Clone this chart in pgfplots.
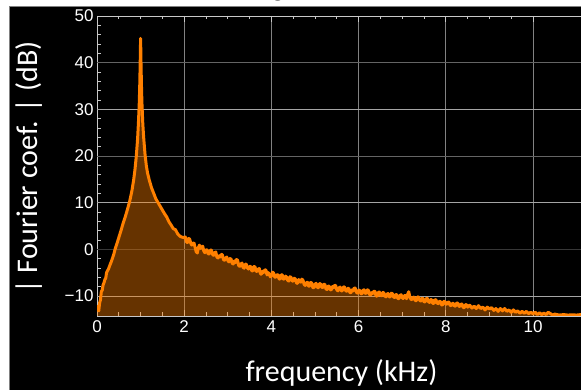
\documentclass[border=0pt]{standalone}
\usepackage{pgfplots}
\usepackage{pgfplotstable}
\pgfplotsset{compat=1.18}
\usepackage{fontspec}
\setmainfont{Carlito}
\newfontfamily\tickfont{Liberation Sans}
\definecolor{mmaorange}{rgb}{1,0.5,0}
\definecolor{framegray}{RGB}{200,200,200}
\definecolor{gridx}{RGB}{130,130,130}
\definecolor{gridlight}{RGB}{165,165,165}
\definecolor{gridmid}{RGB}{100,100,100}
\definecolor{griddark}{RGB}{55,55,55}

\pgfplotstableread{
f v
0.00 -12.0
0.02 -13.0
0.04 -13.2
0.06 -11.5
0.08 -10.8
0.10 -9.0
0.12 -8.8
0.14 -7.6
0.16 -7.2
0.18 -6.5
0.20 -6.2
0.22 -5.0
0.24 -4.6
0.26 -4.3
0.28 -3.8
0.30 -3.3
0.33 -2.6
0.36 -1.8
0.39 -0.9
0.42 0.2
0.45 1.0
0.50 2.5
0.55 4.0
0.60 5.6
0.65 7.0
0.70 8.6
0.75 10.3
0.80 12.5
0.84 14.8
0.87 17.0
0.90 19.8
0.93 23.5
0.95 27.0
0.97 31.5
0.98 35.0
0.99 39.5
1.00 45.2
1.01 39.5
1.02 35.0
1.03 31.5
1.05 27.0
1.07 24.0
1.10 20.5
1.13 18.0
1.16 16.3
1.20 14.8
1.25 13.2
1.30 12.0
1.35 10.8
1.40 10.0
1.45 9.2
1.50 8.4
1.55 7.6
1.60 6.9
1.65 5.9
1.70 5.2
1.75 4.4
1.80 4.2
1.85 3.3
1.90 2.8
1.95 2.6
2.00 2.5
2.025 2.65
2.05 1.6
2.075 1.45
2.10 2.3
2.125 2.2
2.15 1.3
2.175 0.9
2.20 1.3
2.225 1.35
2.25 0.4
2.275 -0.5
2.30 -0.8
2.325 0.35
2.35 0.9
2.375 0.2
2.40 0.5
2.425 0.65
2.45 -0.4
2.475 -0.75
2.50 -0.1
2.525 -0.15
2.55 -1.0
2.575 -1.0
2.60 -0.2
2.625 -0.15
2.65 -1.1
2.675 -1.3
2.70 -0.7
2.725 -0.6
2.75 -1.7
2.775 -1.85
2.80 -1.4
2.825 -1.65
2.85 -1.1
2.875 -1.15
2.90 -2.2
2.925 -2.35
2.95 -1.9
2.975 -1.65
3.00 -2.4
3.025 -2.7
3.05 -2.0
3.075 -2.1
3.10 -3.0
3.125 -3.15
3.15 -2.5
3.175 -2.85
3.20 -2.2
3.225 -2.35
3.25 -3.5
3.275 -3.65
3.30 -3.2
3.325 -2.95
3.35 -3.9
3.375 -4.05
3.40 -3.2
3.425 -3.2
3.45 -4.0
3.475 -4.25
3.50 -3.7
3.525 -3.65
3.55 -4.6
3.575 -4.65
3.60 -3.7
3.625 -3.8
3.65 -4.7
3.675 -4.75
3.70 -4.2
3.725 -4.15
3.75 -5.3
3.775 -5.3
3.80 -4.7
3.825 -4.95
3.85 -4.4
3.875 -4.45
3.90 -5.5
3.925 -5.0
3.95 -5.3
3.975 -5.9
4.00 -5.7
4.025 -4.9
4.05 -5.1
4.075 -5.95
4.10 -6.0
4.125 -5.45
4.15 -5.5
4.175 -6.35
4.20 -6.4
4.225 -5.45
4.25 -5.5
4.275 -6.4
4.30 -6.3
4.325 -5.75
4.35 -6.0
4.375 -6.7
4.40 -6.8
4.425 -5.9
4.45 -6.0
4.475 -6.8
4.50 -6.8
4.525 -6.2
4.55 -6.4
4.575 -7.25
4.60 -7.3
4.625 -6.5
4.65 -6.7
4.675 -7.05
4.70 -6.4
4.725 -6.65
4.75 -7.5
4.775 -7.75
4.80 -7.2
4.825 -7.05
4.85 -7.9
4.875 -7.9
4.90 -7.1
4.925 -7.25
4.95 -8.2
4.975 -8.25
5.00 -7.5
5.025 -7.3
5.05 -8.1
5.075 -8.25
5.10 -7.4
5.125 -7.35
5.15 -8.1
5.175 -8.2
5.20 -7.5
5.225 -7.5
5.25 -8.5
5.275 -8.6
5.30 -7.9
5.325 -7.9
5.35 -8.7
5.375 -8.65
5.40 -8.0
5.425 -8.25
5.45 -7.7
5.475 -7.8
5.50 -8.7
5.525 -8.9
5.55 -8.3
5.575 -8.1
5.60 -8.9
5.625 -8.9
5.65 -8.1
5.675 -8.05
5.70 -8.8
5.725 -9.0
5.75 -8.4
5.775 -8.35
5.80 -9.3
5.825 -9.3
5.85 -8.7
5.875 -8.9
5.90 -8.3
5.925 -8.35
5.95 -9.2
5.975 -9.4
6.00 -8.8
6.025 -8.75
6.05 -9.5
6.075 -9.55
6.10 -8.8
6.125 -8.7
6.15 -9.4
6.175 -9.45
6.20 -8.7
6.225 -8.8
6.25 -9.7
6.275 -9.8
6.30 -9.3
6.325 -9.45
6.35 -9.0
6.375 -9.0
6.40 -10.0
6.425 -10.05
6.45 -9.3
6.475 -9.15
6.50 -9.8
6.525 -9.95
6.55 -9.3
6.575 -9.25
6.60 -10.0
6.625 -10.2
6.65 -9.6
6.675 -9.5
6.70 -10.2
6.725 -10.2
6.75 -9.4
6.775 -9.5
6.80 -10.2
6.825 -10.35
6.85 -9.7
6.875 -9.75
6.90 -10.6
6.925 -10.55
6.95 -9.9
6.975 -9.75
7.00 -10.4
7.025 -10.55
7.05 -9.9
7.075 -9.95
7.10 -10.6
7.125 -9.65
7.15 -9.1
7.175 -10.2
7.20 -10.7
7.225 -10.8
7.25 -10.3
7.275 -10.25
7.30 -11.0
7.325 -11.0
7.35 -10.2
7.375 -10.25
7.40 -10.9
7.425 -11.1
7.45 -10.5
7.475 -10.5
7.50 -11.3
7.525 -11.25
7.55 -10.6
7.575 -10.5
7.60 -11.2
7.625 -11.4
7.65 -10.8
7.675 -10.8
7.70 -11.6
7.725 -11.6
7.75 -10.8
7.775 -10.85
7.80 -11.5
7.825 -11.65
7.85 -11.2
7.875 -11.15
7.90 -11.9
7.925 -11.95
7.95 -11.2
7.975 -11.15
8.00 -11.7
8.025 -11.8
8.05 -11.3
8.075 -11.35
8.10 -12.0
8.125 -12.1
8.15 -11.6
8.175 -11.6
8.20 -12.2
8.225 -12.15
8.25 -11.5
8.275 -11.55
8.30 -12.2
8.325 -12.25
8.35 -11.7
8.375 -11.8
8.40 -12.5
8.425 -12.5
8.45 -11.9
8.475 -11.85
8.50 -12.4
8.55 -12.0
8.60 -12.6
8.65 -12.2
8.70 -12.7
8.75 -12.1
8.80 -12.7
8.85 -12.4
8.90 -13.0
8.95 -12.4
9.00 -12.8
9.05 -12.5
9.10 -13.1
9.15 -12.7
9.20 -13.3
9.25 -12.7
9.30 -13.2
9.35 -12.7
9.40 -13.3
9.45 -13.0
9.50 -13.5
9.55 -13.0
9.60 -13.5
9.65 -13.2
9.70 -13.7
9.75 -13.3
9.80 -13.7
9.85 -13.3
9.90 -13.8
9.95 -13.5
10.00 -13.8
10.05 -13.5
10.10 -14.0
10.15 -13.6
10.20 -14.0
10.25 -13.7
10.30 -14.0
10.35 -13.5
10.40 -13.8
10.45 -14.1
10.50 -13.9
10.60 -14.1
10.70 -14.0
10.80 -14.1
10.90 -14.05
11.00 -14.1
11.10 -14.0
11.20 -14.1
11.30 -14.1
11.40 -14.2
11.50 -14.2
}\spec

\begin{document}
\begin{tikzpicture}
\useasboundingbox (0,0) rectangle (581pt,390pt);
\clip (0,0) rectangle (581pt,390pt);
\fill[white] (0,0) rectangle (581pt,390pt);
\fill[black] (9pt,0) rectangle (581pt,384pt);
\draw[gray, line width=0.8pt] (9pt,-1pt) -- (9pt,384pt) -- (582pt,384pt);
\node[anchor=base, text=black, font=\fontsize{26}{26}\selectfont] at (278pt,393.5pt) {g};
\begin{axis}[
  scale only axis,
  width=501.4pt, height=300pt,
  at={(97pt,74pt)}, anchor=south west,
  xmin=0, xmax=11.5, ymin=-14.3, ymax=50,
  axis line style={framegray, line width=0.8pt},
  tick align=inside,
  xtick={0,2,...,10}, xticklabels={0,2,4,6,8,10},
  ytick={-10,0,...,50}, yticklabels={−10,0,10,20,30,40,50},
  minor x tick num=3, minor y tick num=4,
  major tick length=6pt, minor tick length=3.5pt,
  every tick/.style={framegray, line width=0.8pt},
  xmajorgrids,
  major grid style={gridx, line width=0.8pt},
  tick label style={white, font=\tickfont\fontsize{17}{17}\selectfont},
  xticklabel style={yshift=-1pt},
  xlabel={frequency (kHz)},
  ylabel={| Fourier coef. | (dB)},
  label style={white, font=\fontsize{30}{36}\selectfont},
  xlabel style={at={(rel axis cs:0.4876,0)}, anchor=base, yshift=-66pt},
  ylabel style={at={(rel axis cs:0,0.495)}, anchor=south, yshift=51pt},
]
\draw[gridlight, line width=0.8pt] (axis cs:0,-10) -- (axis cs:11.5,-10);
\draw[gridlight, line width=0.8pt] (axis cs:0,10) -- (axis cs:11.5,10);
\draw[gridlight, line width=0.8pt] (axis cs:0,30) -- (axis cs:11.5,30);
\draw[gridmid, line width=0.8pt] (axis cs:0,20) -- (axis cs:11.5,20);
\draw[gridmid, line width=0.8pt] (axis cs:0,40) -- (axis cs:11.5,40);
\draw[griddark, line width=0.8pt] (axis cs:0,0) -- (axis cs:11.5,0);
\addplot[fill=mmaorange, fill opacity=0.4, draw=none, forget plot] table[x=f, y=v] {\spec} -- (axis cs:11.5,-20) -- (axis cs:0,-20) -- cycle;
\addplot[mmaorange, line width=3pt, line join=round] table[x=f, y=v] {\spec};
\end{axis}
\end{tikzpicture}
\end{document}
